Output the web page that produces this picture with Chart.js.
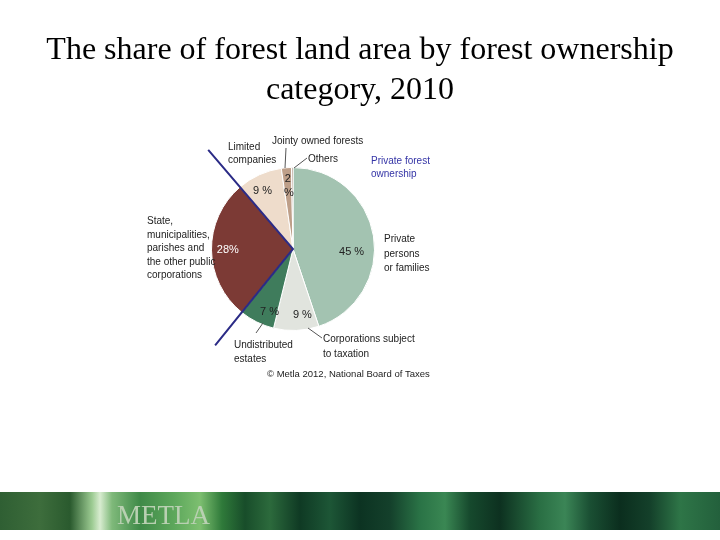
<!DOCTYPE html>
<html>
<head>
<meta charset="utf-8">
<script src="https://cdn.jsdelivr.net/npm/chart.js@4"></script>
<style>
  html, body { margin: 0; padding: 0; background: #ffffff; }
  #wrap { position: relative; width: 720px; height: 540px; overflow: hidden; }
  #c { position: absolute; left: 0; top: 0; }
  #band {
    position: absolute; left: 0; top: 492px; width: 720px; height: 38px;
    background: linear-gradient(90deg,
      #2f5f33 0px, #3d6d3c 40px, #2a5a2e 70px, #9ccb92 92px, #d8ecd0 100px, #7fb97a 112px,
      #3f8a48 140px, #5ea85c 175px, #7dbf70 200px, #2f7a3a 222px, #184d2a 245px,
      #2c6a3c 270px, #0f3a24 300px, #1d5636 330px, #0c3322 360px, #14402b 390px,
      #2a7346 420px, #3a8753 445px, #16492d 470px, #0d3120 500px, #2a6f44 540px,
      #3b8556 565px, #1a4f33 590px, #0b2e1e 620px, #14402a 650px, #2e7547 680px, #23603c 720px);
  }
  #band .logo {
    position: absolute; left: 117px; top: 8px;
    font-family: "Liberation Serif", "DejaVu Serif", serif; font-size: 27px;
    color: #b9d0b2; letter-spacing: 0px;
  }
</style>
</head>
<body>
<div id="wrap">
  <canvas id="c" width="720" height="540"></canvas>
  <div id="band"><span class="logo">METLA</span></div>
</div>
<script>
// ---- data ----
const categories = [
  "Private persons or families",
  "Corporations subject to taxation",
  "Undistributed estates",
  "State, municipalities, parishes and the other public corporations",
  "Limited companies",
  "Jointy owned forests",
  "Others"
];
const shares = [45, 9, 7, 28, 9, 2, 0.3];
const shareLabels = ["45 %", "9 %", "7 %", "28%", "9 %", "2\n%", ""];
const sliceColors = ["#a3c3b1", "#e1e4de", "#3f7c5c", "#7c3a35", "#eedccb", "#be9f89", "#9c7d6b"];
const titleLines = ["The share of forest land area by forest ownership", "category, 2010"];

const ctxEl = document.getElementById('c');

const overlay = {
  id: 'overlay',
  afterDatasetsDraw(chart) {
    const ctx = chart.ctx;
    const meta = chart.getDatasetMeta(0);
    const arcs = meta.data;
    const cx = arcs[0].x, cy = arcs[0].y, r = arcs[0].outerRadius;

    // in-slice labels
    const fr = [0.72, 0.82, 0.82, 0.80, 0.80, 0.78, 0];
    ctx.save();
    ctx.font = '11px "Liberation Sans", Arial, sans-serif';
    ctx.textAlign = 'center';
    ctx.textBaseline = 'middle';
    arcs.forEach((a, i) => {
      const txt = shareLabels[i];
      if (!txt) return;
      let mid = (a.startAngle + a.endAngle) / 2;
      if (i === 0) mid += 0.22;
      if (i === 1) mid -= 0.1;
      if (i === 2) mid -= 0.1;
      if (i === 4) mid -= 0.06;
      const x = cx + Math.cos(mid) * r * fr[i];
      const y = cy + Math.sin(mid) * r * fr[i];
      ctx.fillStyle = (i === 3) ? '#ffffff' : '#222222';
      const lines = txt.split('\n');
      if (lines.length === 2) {
        ctx.fillText(lines[0], x, y - 7);
        ctx.fillText(lines[1], x + 1, y + 7);
      } else {
        ctx.fillText(txt, x, y);
      }
    });

    // blue divider line along public-sector boundaries
    const st = arcs[3];
    ctx.strokeStyle = '#2b2b86';
    ctx.lineWidth = 2;
    ctx.beginPath();
    ctx.moveTo(cx + Math.cos(st.endAngle) * r * 1.6, cy + Math.sin(st.endAngle) * r * 1.6);
    ctx.lineTo(cx, cy);
    ctx.lineTo(cx + Math.cos(st.startAngle) * r * 1.52, cy + Math.sin(st.startAngle) * r * 1.52);
    ctx.stroke();

    // leader lines
    ctx.strokeStyle = '#555555';
    ctx.lineWidth = 1;
    const seg = (x1, y1, x2, y2) => { ctx.beginPath(); ctx.moveTo(cx + x1, cy + y1); ctx.lineTo(cx + x2, cy + y2); ctx.stroke(); };
    seg(-7, -101, -8, -81);   // jointly
    seg(14, -91, 1, -81);     // others
    seg(15, 79, 29, 89);      // corporations
    seg(-30, 74, -37, 84);    // undistributed

    // external labels
    ctx.textAlign = 'left';
    ctx.textBaseline = 'alphabetic';
    ctx.font = '10px "Liberation Sans", Arial, sans-serif';
    ctx.fillStyle = '#222222';
    const put = (lines, dx, dy, lh) => lines.forEach((t, k) => ctx.fillText(t, cx + dx, cy + dy + k * lh));
    put(["Limited", "companies"], -65, -99, 13);
    put(["Jointy owned forests"], -21, -105, 13);
    put(["Others"], 15, -87, 13);
    put(["Private", "persons", "or families"], 91, -7, 14.5);
    put(["Corporations subject", "to taxation"], 30, 93, 14.5);
    put(["Undistributed", "estates"], -59, 99, 13.5);
    put(["State,", "municipalities,", "parishes and", "the other public", "corporations"], -146, -25, 13.6);
    ctx.font = '9.5px "Liberation Sans", Arial, sans-serif';
    put(["© Metla 2012, National Board of Taxes"], -26, 128, 13);
    ctx.fillStyle = '#3434a6';
    ctx.font = '10px "Liberation Sans", Arial, sans-serif';
    put(["Private forest", "ownership"], 78, -85, 13);

    // title
    ctx.fillStyle = '#000000';
    ctx.textAlign = 'center';
    ctx.font = '32px "Liberation Serif", "Times New Roman", serif';
    ctx.fillText(titleLines[0], 360, 59);
    ctx.fillText(titleLines[1], 360, 99);
    ctx.restore();
  }
};

new Chart(ctxEl, {
  type: 'pie',
  data: {
    labels: categories,
    datasets: [{
      data: shares,
      backgroundColor: sliceColors,
      borderColor: '#ffffff',
      borderWidth: 1
    }]
  },
  options: {
    responsive: false,
    animation: false,
    events: [],
    layout: { padding: { left: 211, right: 345, top: 167, bottom: 209 } },
    plugins: { legend: { display: false }, tooltip: { enabled: false }, title: { display: false } }
  },
  plugins: [overlay]
});
</script>
</body>
</html>
